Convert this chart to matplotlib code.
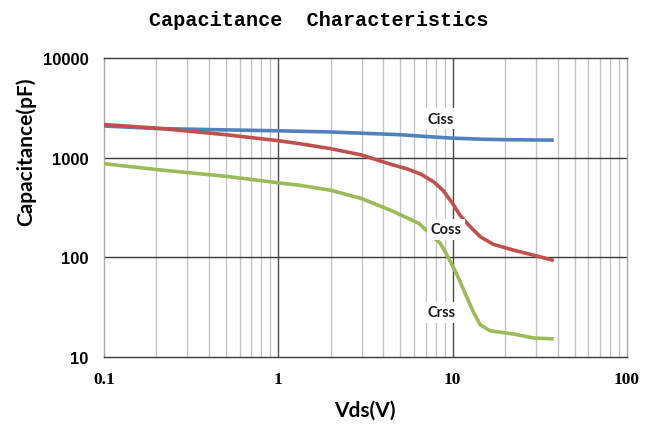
import matplotlib
matplotlib.use("Agg")
import matplotlib.pyplot as plt
from matplotlib.ticker import FixedLocator, NullFormatter, NullLocator

# Capacitance vs drain-source voltage
ciss_v = [0.1, 0.2, 0.5, 1, 2, 3, 5, 7, 10, 15, 20, 30, 38]
ciss_c = [2080, 1960, 1900, 1860, 1810, 1760, 1700, 1630, 1570, 1530, 1515, 1505, 1500]

coss_v = [0.1, 0.2, 0.5, 1, 1.33, 2, 3, 4.4, 5.5, 6.6, 7.8, 8.8, 10, 11, 12.6, 14.4, 17.1, 22.4, 29.2, 38]
coss_c = [2150, 1980, 1700, 1480, 1380, 1230, 1064, 860, 770, 680, 570, 470, 347, 265, 203, 161, 135, 118, 105, 93]

crss_v = [0.1, 0.2, 0.5, 1, 1.33, 2, 3, 4.4, 6.4, 8.5, 9.4, 10.5, 11.7, 13.1, 14.4, 16.4, 22.4, 29.2, 38]
crss_c = [871, 760, 650, 560, 528, 471, 389, 297, 219, 138, 101, 69, 45, 28.6, 21, 18.3, 17, 15.5, 15.2]

x_ticks = [0.1, 1, 10, 100]
x_tick_labels = ["0.1", "1", "10", "100"]
y_ticks = [10, 100, 1000, 10000]
y_tick_labels = ["10", "100", "1000", "10000"]

series_labels = ["Ciss", "Coss", "Crss"]
label_pos = [(8.58, 2450), (9.16, 192), (8.58, 28.2)]

fig = plt.figure(figsize=(6.52, 4.31), dpi=100)
ax = fig.add_axes([104 / 652, 1 - 358 / 431, 523 / 652, 299 / 431])
ax.set_xscale("log")
ax.set_yscale("log")
ax.set_xlim(0.1, 100)
ax.set_ylim(10, 10000)

# grid: light minor lines, dark decade lines
minor_x = [m * 10.0 ** d for d in (-1, 0, 1) for m in range(2, 10)]
for v in minor_x:
    ax.axvline(v, color="#c4c4c4", lw=1.0, zorder=1)
for v in [1, 10]:
    ax.axvline(v, color="#4a4a4a", lw=1.0, zorder=1)
for v in [100, 1000]:
    ax.axhline(v, color="#3a3a3a", lw=1.0, zorder=1)

for s in ("top", "bottom"):
    ax.spines[s].set_color("#3a3a3a")
    ax.spines[s].set_linewidth(1.0)
for s in ("left", "right"):
    ax.spines[s].set_color("#a8a8a8")
    ax.spines[s].set_linewidth(1.0)

ax.plot(ciss_v, ciss_c, color="#4F81BD", lw=2.6, solid_capstyle="butt", zorder=3)
ax.plot(coss_v, coss_c, color="#C0504D", lw=2.6, solid_capstyle="butt", zorder=3)
ax.plot(crss_v, crss_c, color="#9BBB59", lw=2.6, solid_capstyle="butt", zorder=3)

for txt, (xv, yv) in zip(series_labels, label_pos):
    ax.text(xv, yv, txt, ha="center", va="center", fontsize=10.5,
            family="Lato", fontweight="bold", color="#1a1a1a", zorder=5,
            bbox=dict(facecolor="white", edgecolor="none", pad=2.5))

ax.xaxis.set_major_locator(FixedLocator(x_ticks))
ax.xaxis.set_minor_locator(NullLocator())
ax.xaxis.set_minor_formatter(NullFormatter())
ax.set_xticklabels(x_tick_labels, family="Liberation Serif", fontweight="bold", fontsize=12.5)
ax.yaxis.set_major_locator(FixedLocator(y_ticks))
ax.yaxis.set_minor_locator(NullLocator())
ax.yaxis.set_minor_formatter(NullFormatter())
ax.set_yticklabels(y_tick_labels, family="Liberation Sans", fontweight="bold", fontsize=12)
ax.tick_params(axis="both", length=0)
ax.tick_params(axis="x", pad=10)
ax.tick_params(axis="y", pad=11)

fig.text(319 / 652, 1 - 20 / 431, "Capacitance  Characteristics", ha="center", va="center",
         family="Liberation Mono", fontweight="bold", fontsize=14.5)
fig.text(26 / 652, 1 - 152 / 431, "Capacitance(pF)", ha="center", va="center",
         rotation=90, family="Lato", fontweight="bold", fontsize=15)
fig.text(365 / 652, 1 - 411 / 431, "Vds(V)", ha="center", va="center",
         family="Lato", fontweight="bold", fontsize=15)

fig.savefig("out.png", dpi=100)
